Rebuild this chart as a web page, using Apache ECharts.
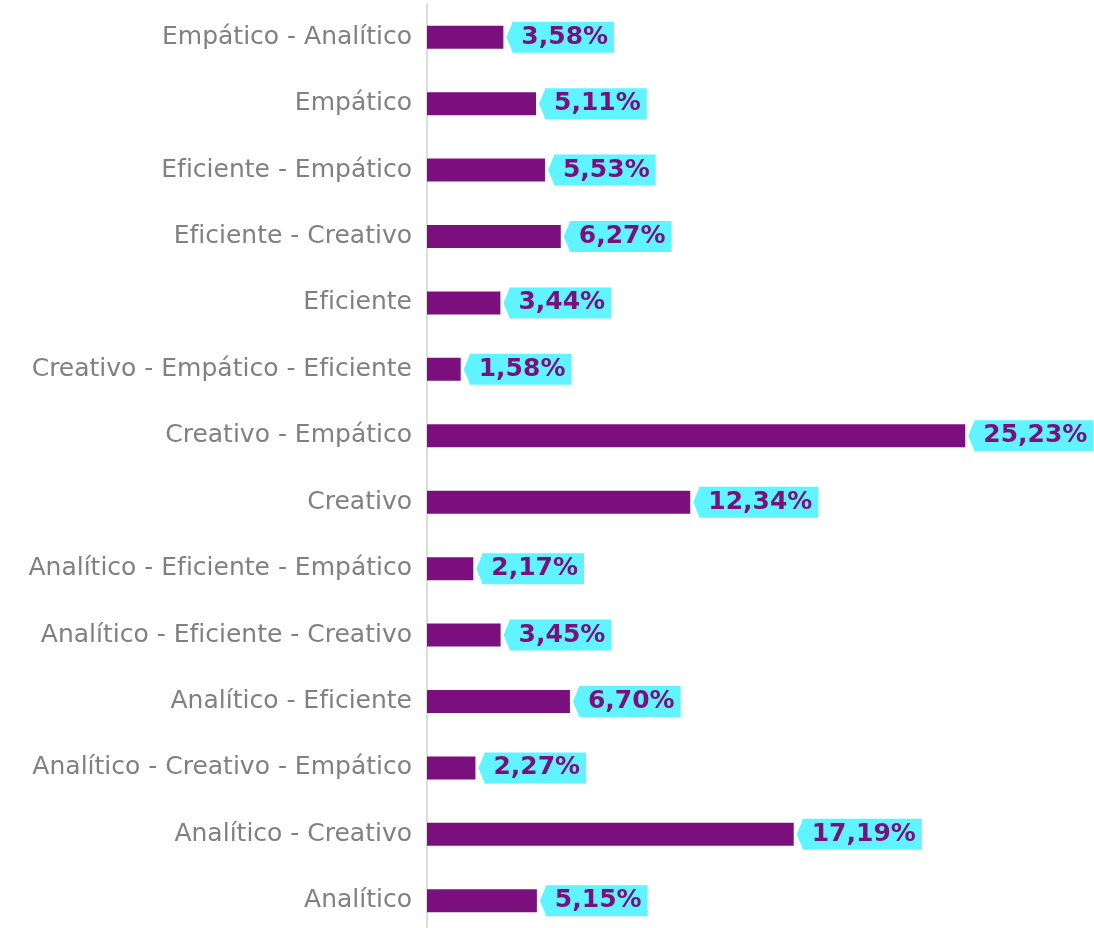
<!DOCTYPE html>
<html lang="es">
<head>
    <meta charset="utf-8"/>
    <title>Perfiles</title>
    <script src="https://cdn.jsdelivr.net/npm/echarts@6/dist/echarts.min.js"></script>
    <style>
        html, body { margin: 0; padding: 0; background: #fff; }
        #chart { width: 1094px; height: 928px; }
    </style>
</head>
<body>
<div id="chart"></div>
<script type="text/javascript">
    // categories listed bottom -> top (as the category axis draws them)
    var categories = [
        'Analítico',
        'Analítico - Creativo',
        'Analítico - Creativo - Empático',
        'Analítico - Eficiente',
        'Analítico - Eficiente - Creativo',
        'Analítico - Eficiente - Empático',
        'Creativo',
        'Creativo - Empático',
        'Creativo - Empático - Eficiente',
        'Eficiente',
        'Eficiente - Creativo',
        'Eficiente - Empático',
        'Empático',
        'Empático - Analítico'
    ];
    var percentages = [5.15, 17.19, 2.27, 6.70, 3.45, 2.17, 12.34, 25.23, 1.58, 3.44, 6.27, 5.53, 5.11, 3.58];

    var purple = '#7b0f7e';
    var cyan = '#5ff4ff';

    function fmt(v) {
        return v.toFixed(2).replace('.', ',') + '%';
    }

    var chart = echarts.init(document.getElementById('chart'));

    var option = {
        animation: false,
        grid: { left: 427, right: 27, top: 4, height: 930, outerBoundsMode: 'none' },
        xAxis: {
            type: 'value',
            min: 0,
            max: 30,
            show: false
        },
        yAxis: {
            type: 'category',
            data: categories,
            axisLine: { show: true, lineStyle: { color: '#dddddd', width: 2 } },
            axisTick: { show: false },
            axisLabel: {
                color: '#808080',
                fontFamily: 'DejaVu Sans',
                fontSize: 25,
                margin: 15
            }
        },
        series: [
            {
                type: 'bar',
                data: percentages,
                barWidth: 23,
                itemStyle: { color: purple },
                label: {
                    show: true,
                    position: 'right',
                    distance: 9,
                    formatter: function (p) { return fmt(p.value); },
                    color: purple,
                    fontFamily: 'DejaVu Sans',
                    fontWeight: 'bold',
                    fontSize: 25,
                    backgroundColor: cyan,
                    lineHeight: 31,
                    padding: [0, 6, 0, 9]
                },
                z: 2
            },
            {
                // little arrow on the left side of each value tag
                type: 'custom',
                data: percentages.map(function (v, i) { return [v, i]; }),
                renderItem: function (params, api) {
                    var pt = api.coord([api.value(0), api.value(1)]);
                    var x = pt[0], y = pt[1];
                    return {
                        type: 'polygon',
                        shape: {
                            points: [[x + 3, y], [x + 9.5, y - 15.5], [x + 9.5, y + 15.5]]
                        },
                        style: { fill: cyan }
                    };
                },
                z: 3
            }
        ]
    };

    chart.setOption(option);
</script>
</body>
</html>
